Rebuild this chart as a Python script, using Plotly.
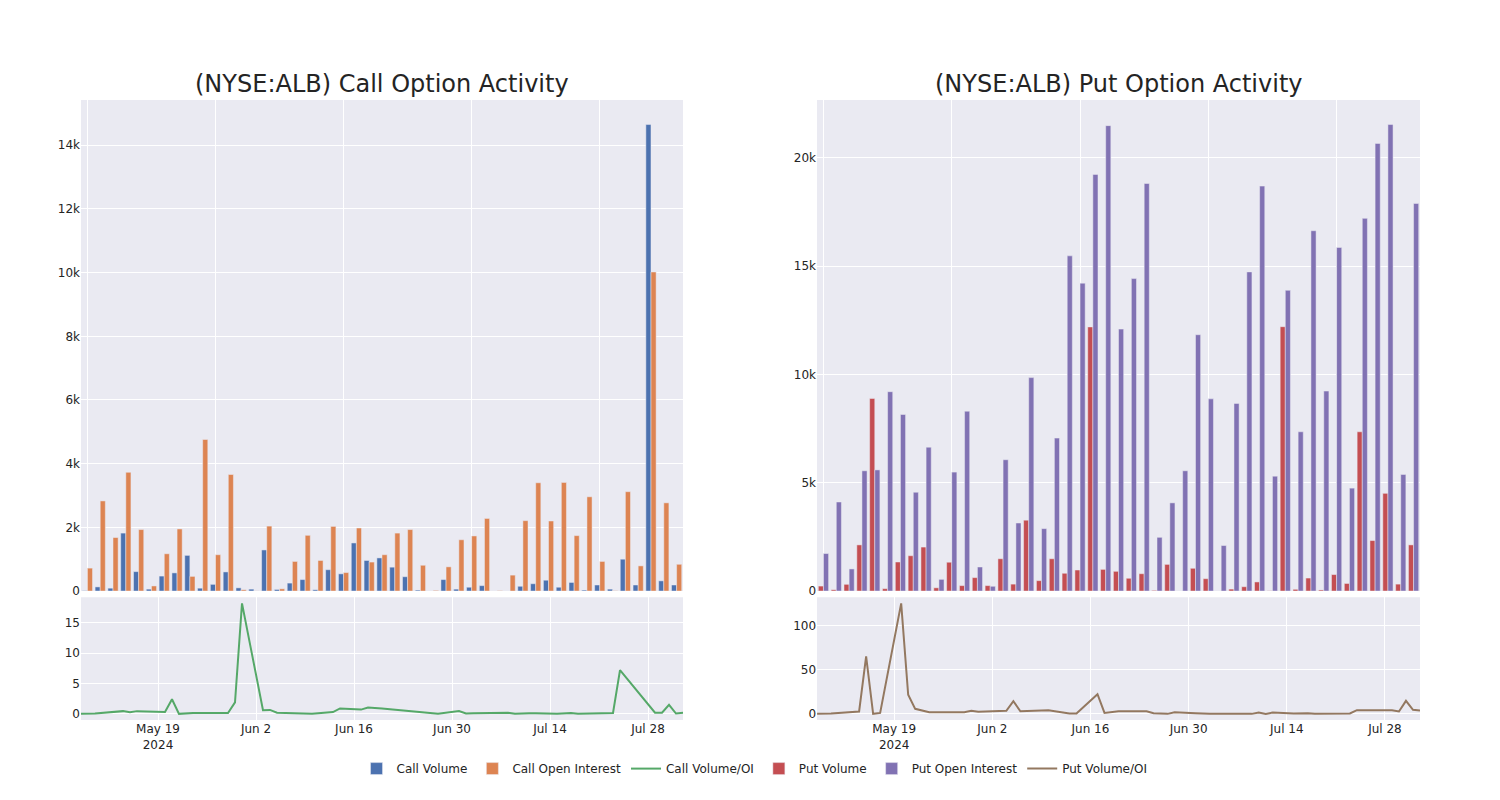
import plotly.graph_objects as go
from plotly.subplots import make_subplots

dates = ["2024-05-08", "2024-05-09", "2024-05-10", "2024-05-14", "2024-05-15", "2024-05-16",
         "2024-05-17", "2024-05-20", "2024-05-21", "2024-05-22", "2024-05-24", "2024-05-29",
         "2024-05-30", "2024-05-31", "2024-06-03", "2024-06-04", "2024-06-05", "2024-06-06",
         "2024-06-10", "2024-06-13", "2024-06-14", "2024-06-17", "2024-06-18", "2024-06-20",
         "2024-06-24", "2024-06-25", "2024-06-27", "2024-06-28", "2024-07-01", "2024-07-02",
         "2024-07-03", "2024-07-05", "2024-07-08", "2024-07-09", "2024-07-10", "2024-07-11",
         "2024-07-12", "2024-07-15", "2024-07-17", "2024-07-18", "2024-07-23", "2024-07-24",
         "2024-07-29", "2024-07-30", "2024-07-31", "2024-08-01", "2024-08-02"]

call_volume = [10, 130, 90, 1820, 610, 60, 470, 570, 1120, 90, 210, 600, 100, 60, 1290, 50,
               250, 360, 40, 670, 540, 1510, 960, 1040, 750, 450, 30, 0, 360, 60, 120, 170,
               0, 0, 150, 230, 340, 120, 270, 30, 190, 60, 1000, 190, 14650, 320, 190]
call_oi = [720, 2830, 1680, 3730, 1930, 160, 1170, 1950, 460, 4760, 1140, 3660, 40, 3, 2040, 70,
           930, 1750, 960, 2030, 580, 1980, 910, 1140, 1820, 1930, 810, 20, 760, 1610, 1730, 2280,
           10, 500, 2210, 3400, 2200, 3410, 1740, 2960, 930, 8, 3120, 790, 10020, 2770, 840]
call_ratio = [0, 0.02, 0.05, 0.45, 0.25, 0.45, 0.4, 0.3, 2.4, 0.0, 0.15, 0.15, 1.9, 18.2, 0.6,
              0.65, 0.2, 0.15, 0.0, 0.3, 0.9, 0.7, 1.05, 0.9, 0.45, 0.35, 0.1, 0.0, 0.45, 0.05,
              0.1, 0.1, 0.2, 0.0, 0.1, 0.1, 0.1, 0.0, 0.15, 0.0, 0.15, 7.2, 0.2, 0.2, 1.5, 0.05, 0.2]

put_volume = [230, 60, 310, 2130, 8890, 110, 1340, 1630, 2030, 150, 1330, 250, 620, 250, 1490,
              320, 3270, 480, 1490, 820, 970, 12190, 1000, 910, 590, 800, 30, 1230, 0, 1050, 570,
              0, 90, 200, 420, 10, 12200, 80, 600, 50, 760, 350, 7350, 2330, 4510, 320, 2130]
put_oi = [1730, 4110, 1020, 5550, 5590, 9200, 8150, 4560, 6640, 540, 5490, 8300, 1110, 220, 6060,
          3140, 9850, 2880, 7060, 15470, 14210, 19230, 21480, 12090, 14420, 18810, 2480, 4070,
          5550, 11830, 8870, 2100, 8660, 14730, 18690, 5300, 13880, 7350, 16630, 9230, 15860,
          4750, 17200, 20660, 21530, 5380, 17890]
put_ratio = [0, 0.3, 0.5, 2.7, 65.4, 0, 1.1, 125.5, 21.7, 5.7, 1.9, 1.9, 3.4, 2.3, 3.0, 3.4, 14.4,
             3.0, 4.2, 0.4, 0.4, 22.4, 1.1, 3.0, 3.0, 0.8, 0.0, 1.9, 0.8, 0, 0, 0, 0, 0, 1.5, 0,
             1.5, 0.4, 0.8, 0, 0.4, 4.2, 4.2, 2.7, 14.8, 4.6, 3.8]

titles = ["(NYSE:ALB) Call Option Activity", "(NYSE:ALB) Put Option Activity"]

fig = make_subplots(rows=2, cols=2)
fig.add_trace(go.Bar(x=dates, y=call_volume, name="Call Volume"), row=1, col=1)
fig.add_trace(go.Bar(x=dates, y=call_oi, name="Call Open Interest"), row=1, col=1)
fig.add_trace(go.Scatter(x=dates, y=call_ratio, mode="lines", name="Call Volume/OI"), row=2, col=1)
fig.add_trace(go.Bar(x=dates, y=put_volume, name="Put Volume"), row=1, col=2)
fig.add_trace(go.Bar(x=dates, y=put_oi, name="Put Open Interest"), row=1, col=2)
fig.add_trace(go.Scatter(x=dates, y=put_ratio, mode="lines", name="Put Volume/OI"), row=2, col=2)

left = [0, 0.4496]
right = [0.5497, 1]
top = [0.208, 1]
bottom = [0, 0.198]

fig.update_layout(
    template="seaborn",
    width=1500, height=800,
    font=dict(family="DejaVu Sans"),
    barmode="group",
    margin=dict(l=73, r=88, t=92, b=88),
    xaxis=dict(domain=left, type="category", showticklabels=False, tickmode="linear", tick0=0, dtick=10),
    xaxis2=dict(domain=right, type="category", showticklabels=False, tickmode="linear", tick0=0, dtick=10),
    xaxis3=dict(domain=left, type="date"),
    xaxis4=dict(domain=right, type="date"),
    yaxis=dict(domain=top),
    yaxis2=dict(domain=top),
    yaxis3=dict(domain=bottom),
    yaxis4=dict(domain=bottom),
    legend=dict(orientation="h", x=0.503, xanchor="center", y=-0.055, yanchor="top"),
    annotations=[
        dict(text=titles[0], x=sum(left) / 2, y=1, xref="paper", yref="paper",
             xanchor="center", yanchor="bottom", showarrow=False, font=dict(size=24)),
        dict(text=titles[1], x=sum(right) / 2, y=1, xref="paper", yref="paper",
             xanchor="center", yanchor="bottom", showarrow=False, font=dict(size=24)),
    ],
)

fig.write_html("out.html")
